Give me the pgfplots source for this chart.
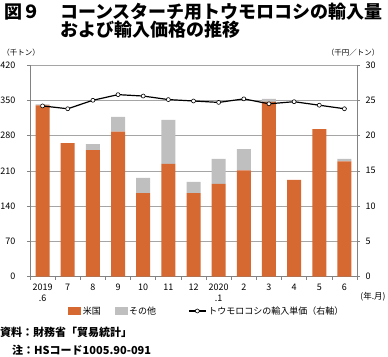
\documentclass[border=0pt]{standalone}
\usepackage{fontspec}
\setmainfont{Noto Sans CJK JP}
\usepackage{pgfplots}
\pgfplotsset{compat=1.18}
\definecolor{usor}{RGB}{214,104,50}
\definecolor{oth}{RGB}{191,191,191}
\definecolor{gridc}{RGB}{165,165,165}
\definecolor{axc}{RGB}{130,130,130}

\pgfplotstableread{
x us other
0 340 2
1 265 0
2 251 12
3 288 29
4 166 30
5 224 87
6 166 22
7 184 50
8 211 42
9 347 6
10 192 0
11 293 0
12 229 5
}\voltable

\pgfplotstableread{
x price
0 24.2
1 23.8
2 25.0
3 25.8
4 25.6
5 25.1
6 24.9
7 24.7
8 25.2
9 24.5
10 24.8
11 24.3
12 23.8
}\pricetable

\pgfplotsset{
  basegeom/.style={
    at={(30pt,79.3pt)}, anchor=south west, scale only axis,
    width=327pt, height=211.7pt,
    xmin=-0.5, xmax=12.5,
    /pgf/number format/assume math mode=true,
    tick align=outside,
    major tick length=3pt,
    tick style={draw=axc, line width=0.6pt},
    axis line style={draw=axc, line width=0.7pt},
    ticklabel style={font=\fontsize{9}{11}\selectfont},
  }
}

\begin{document}
\begin{tikzpicture}[x=1pt,y=1pt]
\useasboundingbox (0,0) rectangle (388,356);

% Title
\node[anchor=base west, inner sep=0, font=\fontsize{18}{18}\selectfont\bfseries] at (4,337) {図９};
\node[anchor=base west, inner sep=0, font=\fontsize{18}{18}\selectfont\bfseries] at (60,337) {コーンスターチ用トウモロコシの輸入量};
\node[anchor=base west, inner sep=0, font=\fontsize{18}{18}\selectfont\bfseries] at (60,319) {および輸入価格の推移};

% unit labels
\node[inner sep=0, font=\fontsize{7.5}{8}\selectfont] at (21,303) {（千トン）};
\node[inner sep=0, font=\fontsize{7.5}{8}\selectfont] at (353,303) {（千円／トン）};
\node[inner sep=0, font=\fontsize{8.5}{9}\selectfont] at (373,59) {(年.月)};

\begin{axis}[
  basegeom,
  ymin=0, ymax=420,
  ytick={0,70,...,420},
  axis x line*=bottom, axis y line*=left,
  ymajorgrids,
  grid style={draw=gridc, line width=0.6pt},
  xtick={-0.5,0.5,...,12.5},
  xticklabels={},
  extra x ticks={0,1,...,12},
  extra x tick labels={{2019\\.6},7,8,9,10,11,12,{2020\\.1},2,3,4,5,6},
  extra x tick style={major tick length=0pt, xticklabel style={align=center, anchor=north, yshift=-3.5pt, font=\fontsize{9}{11}\selectfont}},
  yticklabel style={xshift=-8pt},
  ybar stacked, bar width=14pt,
]
\addplot[fill=usor, draw=none] table[x=x, y=us] {\voltable};
\addplot[fill=oth, draw=none] table[x=x, y=other] {\voltable};
\end{axis}

\begin{axis}[
  basegeom,
  ymin=0, ymax=30,
  ytick={0,5,...,30},
  axis y line*=right, axis x line=none,
  yticklabel style={xshift=2pt},
  legend columns=3,
  legend style={draw=none, fill=none, at={(0.541,-0.162)}, anchor=center,
    font=\fontsize{9}{10}\selectfont,
    /tikz/column 2/.style={column sep=12pt},
    /tikz/column 4/.style={column sep=30pt},
    inner sep=0pt},
]
\addlegendimage{legend image code/.code={\fill[usor] (0pt,-3.5pt) rectangle (12pt,4pt);}}
\addlegendentry{米国}
\addlegendimage{legend image code/.code={\fill[oth] (0pt,-3.5pt) rectangle (12pt,4pt);}}
\addlegendentry{その他}
\addplot[black, line width=1.2pt, mark=*, mark size=2pt, mark options={fill=white, draw=black, line width=0.6pt}] table[x=x, y=price] {\pricetable};
\addlegendentry{トウモロコシの輸入単価（右軸）}
\end{axis}

% footnotes
\node[anchor=base west, inner sep=0, font=\fontsize{11}{11}\selectfont\bfseries] at (0,19.8) {資料：財務省「貿易統計」};
\node[anchor=base west, inner sep=0, font=\fontsize{11}{11}\selectfont\bfseries] at (12,1.8) {注：HSコード1005.90-091};
\end{tikzpicture}
\end{document}
